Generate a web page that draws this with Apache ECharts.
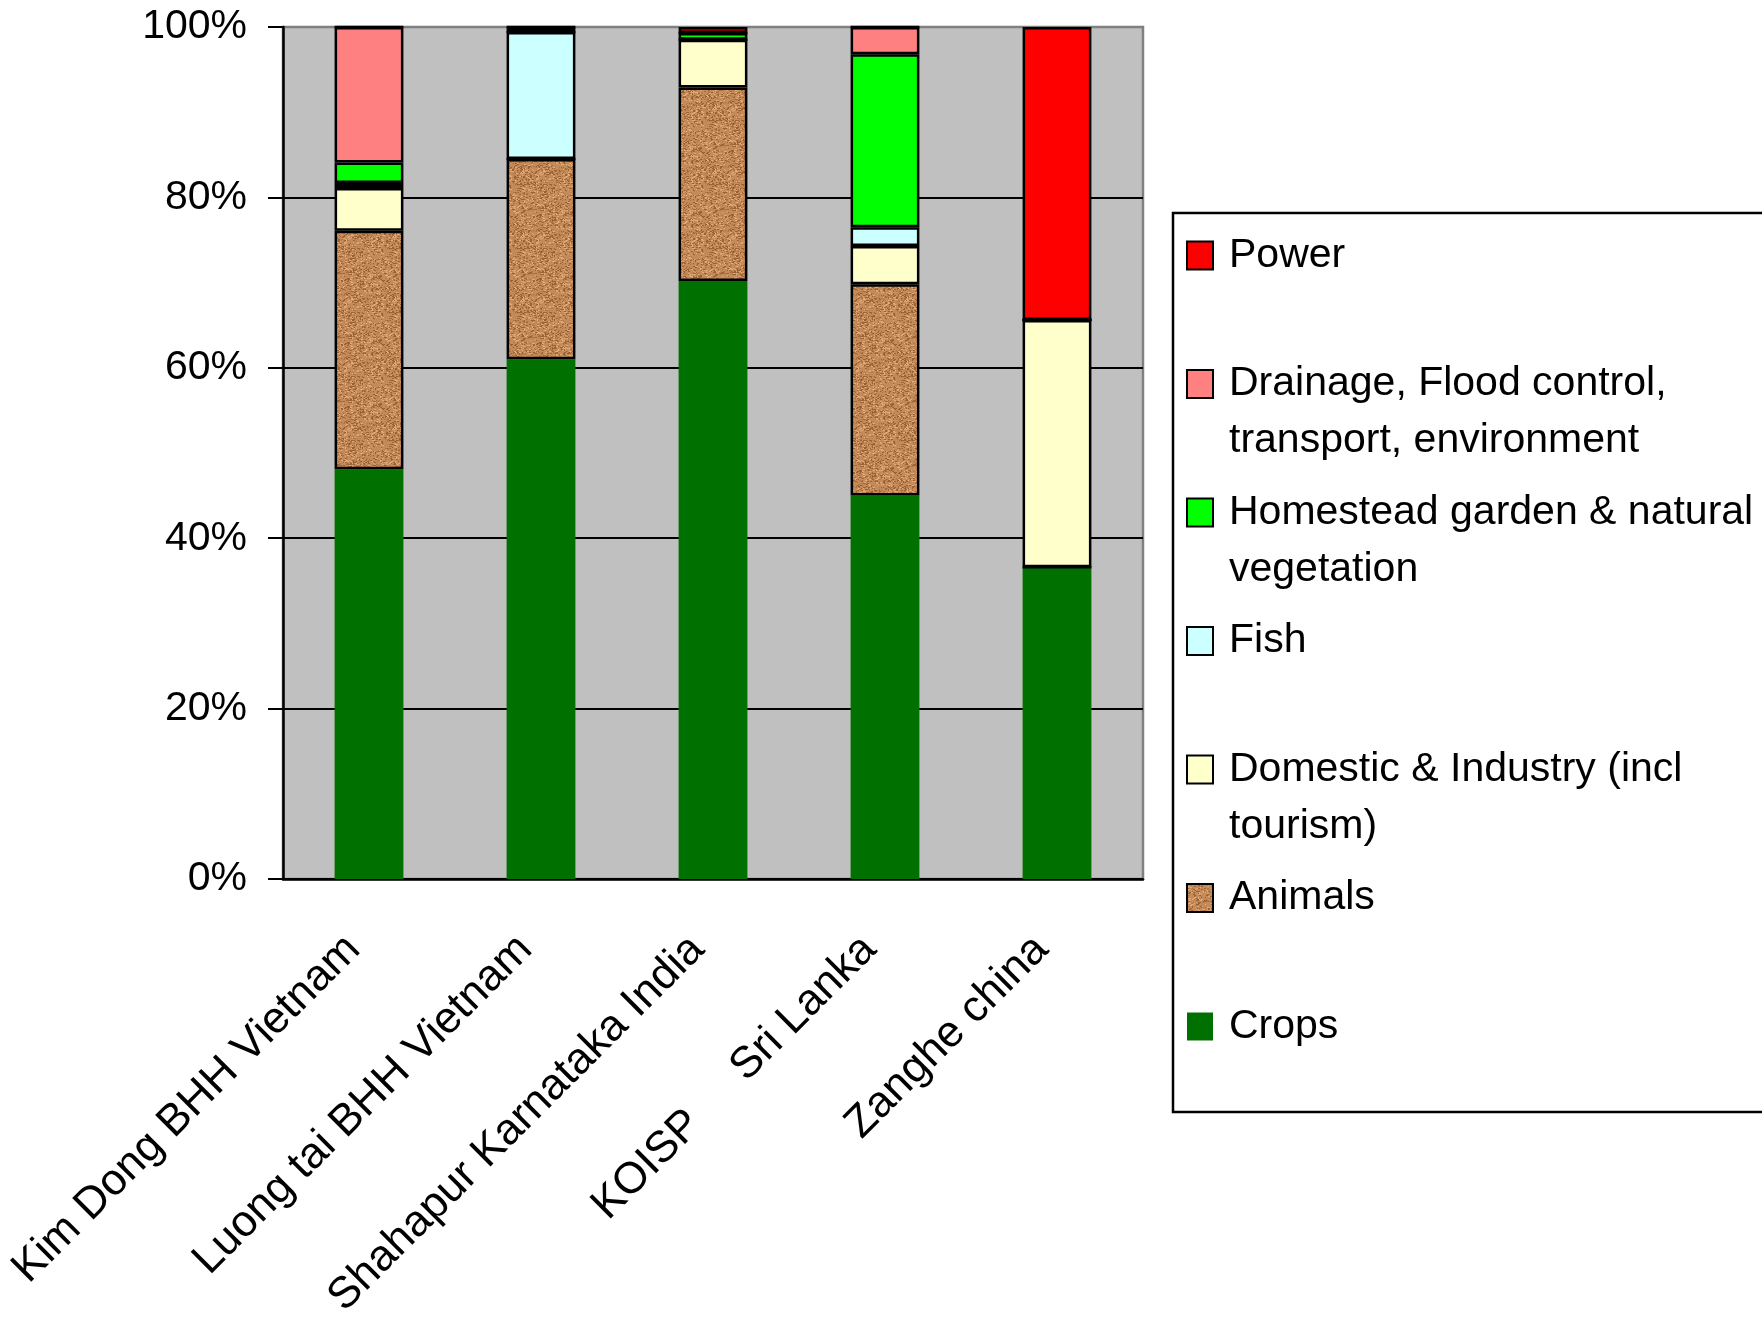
<!DOCTYPE html>
<html>
<head>
<meta charset="utf-8">
<script src="https://cdn.jsdelivr.net/npm/echarts@6/dist/echarts.min.js"></script>
<style>html,body{margin:0;padding:0;background:#fff}#c{width:1762px;height:1318px}</style>
</head>
<body>
<div id="c"></div>
<script>
const categories = ['Kim Dong BHH Vietnam', 'Luong tai BHH Vietnam', 'Shahapur Karnataka India', 'KOISP     Sri Lanka', 'Zanghe china'];
const crops     = [48.1, 61.0, 70.2, 45.0, 36.6];
const animals   = [28.0, 23.5, 22.7, 24.8, 0];
const domestic  = [5.0, 0, 5.6, 4.5, 29.0];
const fish      = [0.6, 14.9, 0, 2.2, 0];
const homestead = [2.4, 0, 0.8, 20.3, 0];
const drainage  = [15.9, 0.6, 0, 3.2, 0];
const power     = [0, 0, 0.7, 0, 34.4];
const yTicks = [0, 20, 40, 60, 80, 100];

const seriesNames = ['Crops', 'Animals', 'Domestic & Industry (incl tourism)', 'Fish', 'Homestead garden & natural vegetation', 'Drainage, Flood control, transport, environment', 'Power'];
const legendLines = {
  'Power': ['Power', ' '],
  'Drainage, Flood control, transport, environment': ['Drainage, Flood control,', 'transport, environment'],
  'Homestead garden & natural vegetation': ['Homestead garden & natural', 'vegetation'],
  'Fish': ['Fish', ' '],
  'Domestic & Industry (incl tourism)': ['Domestic & Industry (incl', 'tourism)'],
  'Animals': ['Animals', ' '],
  'Crops': ['Crops', ' ']
};

// cork-like texture for Animals
function makeTexture() {
  const c = document.createElement('canvas');
  c.width = 64; c.height = 64;
  const ctx = c.getContext('2d');
  ctx.fillStyle = '#C48A58';
  ctx.fillRect(0, 0, 64, 64);
  let s = 12345;
  function rnd() { s = (s * 1103515245 + 12345) & 0x7fffffff; return s / 0x7fffffff; }
  for (let i = 0; i < 1400; i++) {
    const x = Math.floor(rnd() * 64), y = Math.floor(rnd() * 64);
    const r = rnd();
    ctx.fillStyle = r < 0.45 ? '#9C6236' : (r < 0.8 ? '#DDAA78' : '#B37848');
    ctx.fillRect(x, y, 1 + Math.floor(rnd() * 2), 1);
  }
  return c;
}
const tex = makeTexture();

const font = "'Liberation Sans', Arial, sans-serif";
const colors = ['#007000', {image: tex, repeat: 'repeat'}, '#FFFFCC', '#CCFFFF', '#00FF00', '#FF8080', '#FF0000'];
const dataArr = [crops, animals, domestic, fish, homestead, drainage, power];

const chart = echarts.init(document.getElementById('c'));
chart.setOption({
  animation: false,
  backgroundColor: '#fff',
  grid: {
    left: 283, right: 619, top: 27, bottom: 439,
    outerBoundsMode: 'none',
    containLabel: false,
    show: true, backgroundColor: '#C0C0C0', borderColor: '#808080', borderWidth: 2.5
  },
  graphic: [{
    type: 'rect', z: -1,
    shape: {x: 1173, y: 213, width: 700, height: 899},
    style: {fill: '#fff', stroke: '#000', lineWidth: 2.5}
  }],
  legend: {
    orient: 'vertical',
    left: 1186, top: 170,
    padding: 0,
    itemWidth: 26, itemHeight: 28,
    itemGap: -42.5,
    icon: 'rect',
    selectedMode: false,
    data: seriesNames.slice().reverse(),
    formatter: name => ' \n' + legendLines[name].join('\n'),
    textStyle: {fontFamily: font, fontSize: 41, lineHeight: 57, color: '#000', padding: [0, 0, 0, 11]}
  },
  xAxis: {
    type: 'category',
    data: categories,
    axisLine: {lineStyle: {color: '#000', width: 2.5}},
    axisTick: {length: 17, lineStyle: {color: '#000', width: 2}},
    axisLabel: {rotate: 45, margin: 48, fontSize: 44, fontFamily: font, color: '#000', interval: 0,
      padding: [0, 22, 0, 0]}
  },
  yAxis: {
    type: 'value', min: 0, max: 100, interval: 20,
    axisLine: {show: true, lineStyle: {color: '#000', width: 2.5}},
    axisTick: {show: true, length: 15, lineStyle: {color: '#000', width: 2}},
    axisLabel: {margin: 36, fontSize: 41, fontFamily: font, color: '#000', padding: [5, 0, 0, 0],
      formatter: v => yTicks.indexOf(v) >= 0 ? v + '%' : ''},
    splitLine: {show: true, lineStyle: {color: ['#000', '#000', '#000', '#000', '#000', '#808080'], width: 2}}
  },
  series: seriesNames.map((n, i) => ({
    name: n, type: 'bar', stack: 'all', barWidth: '40%',
    data: dataArr[i],
    itemStyle: {
      color: colors[i],
      borderColor: '#000',
      borderWidth: i === 0 ? 0 : 2.5
    },
    emphasis: {disabled: true}
  }))
});
</script>
</body>
</html>
